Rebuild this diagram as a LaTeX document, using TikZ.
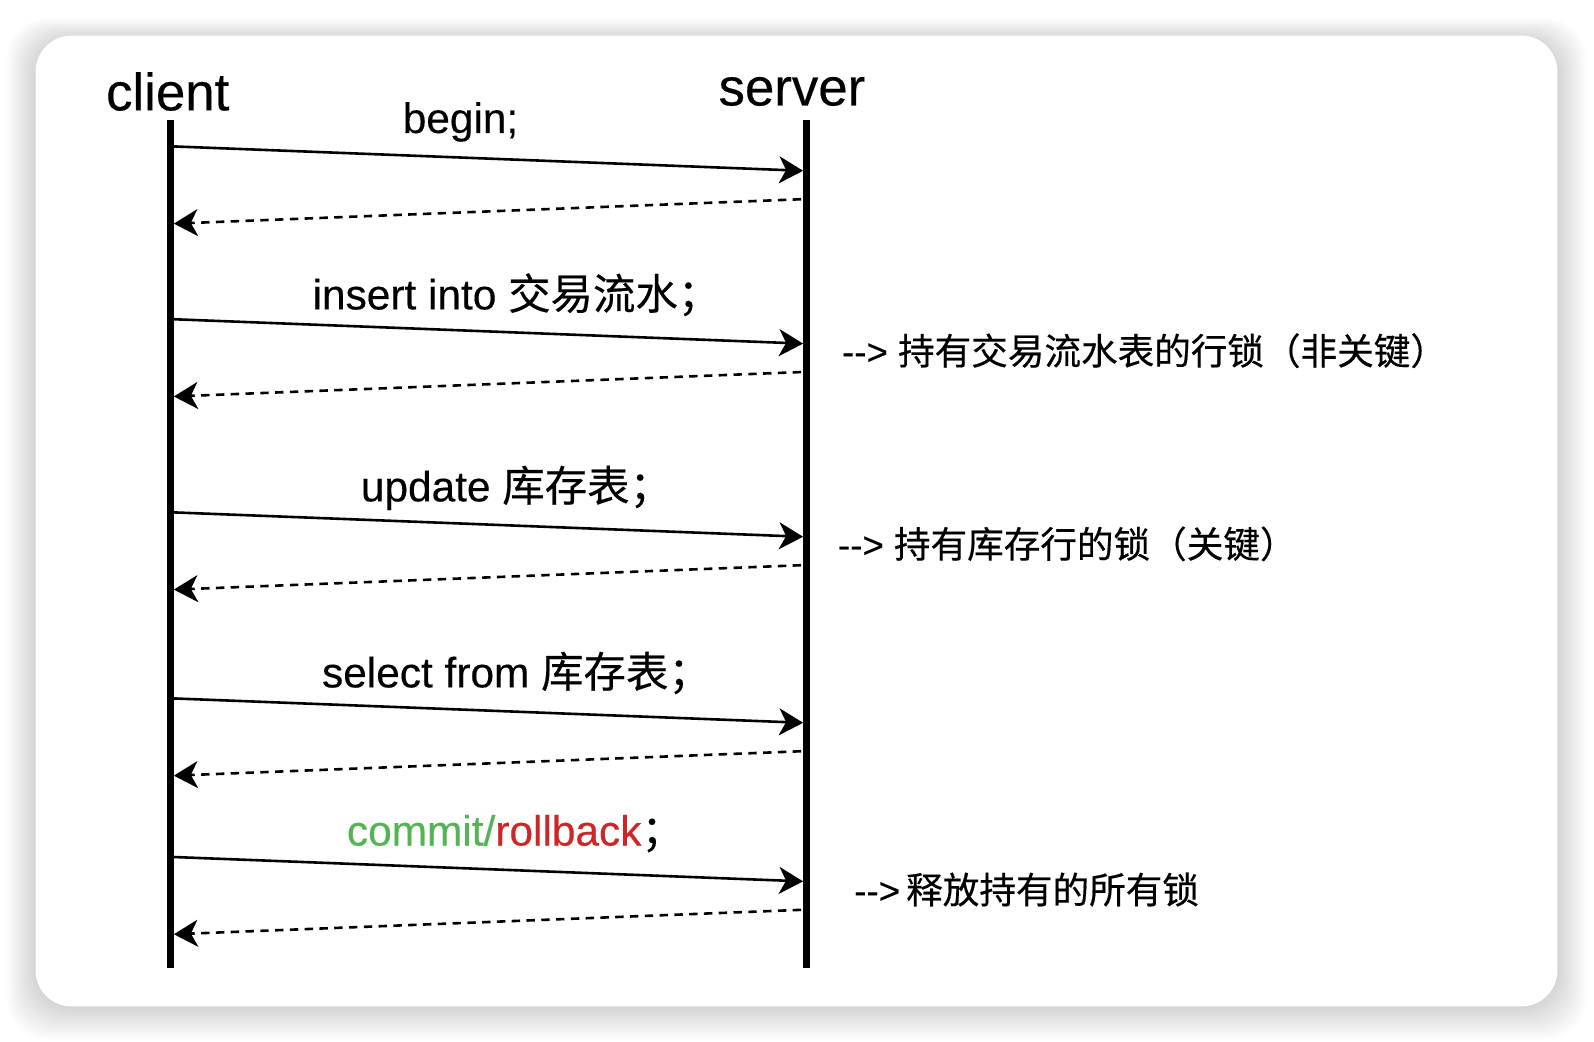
\documentclass[tikz,border=0pt]{standalone}
\usepackage{fontspec}
\setmainfont{Liberation Sans}[FakeBold=0.3]
\newfontfamily\cjk{Noto Sans CJK SC}[FakeBold=0.4]
\usetikzlibrary{arrows.meta}
\definecolor{commitgreen}{RGB}{84,180,84}
\definecolor{rollbackred}{RGB}{206,38,38}
\tikzset{
  actor/.style={font=\fontsize{26.4}{30}\selectfont, inner sep=0pt},
  msg/.style={font=\fontsize{21.2}{24}\selectfont, inner sep=0pt},
  note/.style={font=\fontsize{18.3}{22}\selectfont, inner sep=0pt, anchor=west},
  lifeline/.style={line width=3.6pt},
  call/.style={line width=1.3pt, -{Stealth[length=12pt, width=13.5pt, inset=3.5pt]}},
  reply/.style={line width=1.3pt, dash pattern=on 4.2pt off 3.2pt, -{Stealth[length=12pt, width=13.5pt, inset=3.5pt]}},
}
\begin{document}
\begin{tikzpicture}[x=0.5083pt, y=-0.5083pt]
    \useasboundingbox (0,0) rectangle (1568,1025);
    \fill[white] (0,0) rectangle (1568,1025);

    % Card with soft shadow
    \foreach \i in {1,...,14}
        \fill[black, opacity=0.011, rounded corners=20pt]
            (35-2*\i,35-1.5*\i+4) rectangle (1532+2*\i,990+2.3*\i);
    \fill[white, rounded corners=18pt] (35,35) rectangle (1532,990);

    % Actors
    \node[actor] (client) at (165,90) {client};
    \node[actor] (server) at (779,90) {server};

    % Lifelines
    \coordinate (ctop) at (168,118);
    \coordinate (cbot) at (168,952);
    \coordinate (stop) at (793,118);
    \coordinate (sbot) at (793,952);
    \draw[lifeline] (ctop) -- (cbot);
    \draw[lifeline] (stop) -- (sbot);

    % Points on the lifelines
    \coordinate (c1) at (170,144);  \coordinate (s1) at (790,168);
    \coordinate (s1r) at (788,196); \coordinate (c1r) at (171,220);
    \coordinate (c2) at (170,314);  \coordinate (s2) at (790,338);
    \coordinate (s2r) at (788,366); \coordinate (c2r) at (171,390);
    \coordinate (c3) at (170,504);  \coordinate (s3) at (790,528);
    \coordinate (s3r) at (788,556); \coordinate (c3r) at (171,580);
    \coordinate (c4) at (170,687);  \coordinate (s4) at (790,711);
    \coordinate (s4r) at (788,739); \coordinate (c4r) at (171,763);
    \coordinate (c5) at (170,843);  \coordinate (s5) at (790,867);
    \coordinate (s5r) at (788,895); \coordinate (c5r) at (171,919);

    % Requests and replies
    \draw[call] (c1) -- (s1);
    \draw[reply] (s1r) -- (c1r);
    \draw[call] (c2) -- (s2);
    \draw[reply] (s2r) -- (c2r);
    \draw[call] (c3) -- (s3);
    \draw[reply] (s3r) -- (c3r);
    \draw[call] (c4) -- (s4);
    \draw[reply] (s4r) -- (c4r);
    \draw[call] (c5) -- (s5);
    \draw[reply] (s5r) -- (c5r);

    % Statements
    \node[msg] (begin) at (453,120) {begin;};
    \node[msg] (insert) at (508,290) {insert into {\cjk 交易流水；}};
    \node[msg] (update) at (508,480) {update {\cjk 库存表；}};
    \node[msg] (select) at (508,662) {select from {\cjk 库存表；}};
    \node[msg] (commit) at (507,820) {\textcolor{commitgreen}{commit/}\textcolor{rollbackred}{rollback}{\cjk ；}};

    % Lock notes
    \node[note] (lock1) at (828,345) {-{}-> {\cjk 持有交易流水表的行锁（非关键）}};
    \node[note] (lock2) at (824,535) {-{}-> {\cjk 持有库存行的锁（关键）}};
    \node[note] (lock3) at (840,875) {-{}->\,{\cjk 释放持有的所有锁}};
\end{tikzpicture}
\end{document}
